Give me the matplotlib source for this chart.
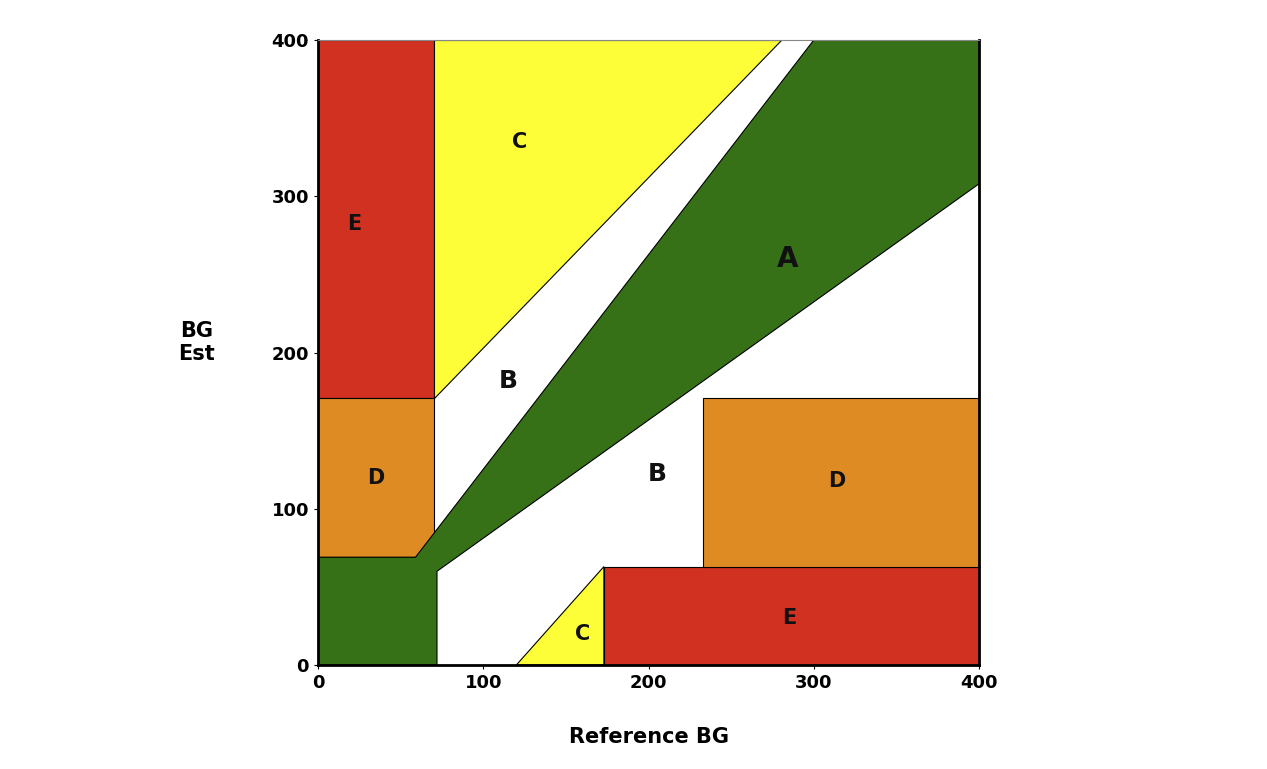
import matplotlib.pyplot as plt
from matplotlib.patches import Polygon

red = '#d13120'
yellow = '#fdfd38'
green = '#367117'
orange = '#df8b23'

# zone polygons in (reference, estimate) units
zones = {
    'E_top': ([0, 70, 70, 0], [171, 171, 400, 400], red),
    'D_left': ([0, 70, 70, 0], [69, 69, 171, 171], orange),
    'C_top': ([70, 70, 280], [171, 400, 400], yellow),
    'A': ([0, 72, 72, 400, 400, 300, 59, 0], [0, 0, 60, 308, 400, 400, 69, 69], green),
    'C_bot': ([120, 173, 173], [0, 63, 0], yellow),
    'E_bot': ([173, 400, 400, 173], [0, 0, 63, 63], red),
    'D_right': ([233, 400, 400, 233], [63, 63, 171, 171], orange),
}
labels = [('C', 122, 335), ('E', 22, 282), ('B', 115, 182), ('A', 284, 260),
          ('D', 35, 120), ('B', 205, 122), ('D', 314, 118), ('C', 160, 20),
          ('E', 285, 30)]
label_size = {'A': 20, 'B': 18}

fig = plt.figure(figsize=(12.67, 7.69), dpi=100)
ax = fig.add_axes([0.251, 0.1352, 0.5217, 0.8127])
for name, (xs, ys, c) in zones.items():
    ax.add_patch(Polygon(list(zip(xs, ys)), closed=True, facecolor=c,
                         edgecolor='black', linewidth=0.8))
for t, x, y in labels:
    ax.text(x, y, t, ha='center', va='center', fontweight='bold',
            fontsize=label_size.get(t, 15), color='#111111')

ax.set_xlim(0, 400)
ax.set_ylim(0, 400)
ax.set_xticks([0, 100, 200, 300, 400])
ax.set_yticks([0, 100, 200, 300, 400])
for lbl in ax.get_xticklabels() + ax.get_yticklabels():
    lbl.set_fontweight('bold')
    lbl.set_fontsize(13)
ax.tick_params(length=3)
for s in ['left', 'bottom', 'right']:
    ax.spines[s].set_linewidth(2)
ax.spines['top'].set_color('#888888')
ax.set_xlabel('Reference BG', fontweight='bold', fontsize=15, labelpad=25)
fig.text(0.155, 0.555, 'BG\nEst', fontweight='bold', fontsize=15,
         ha='center', va='center', linespacing=1.2)
fig.savefig('out.png', dpi=100)
